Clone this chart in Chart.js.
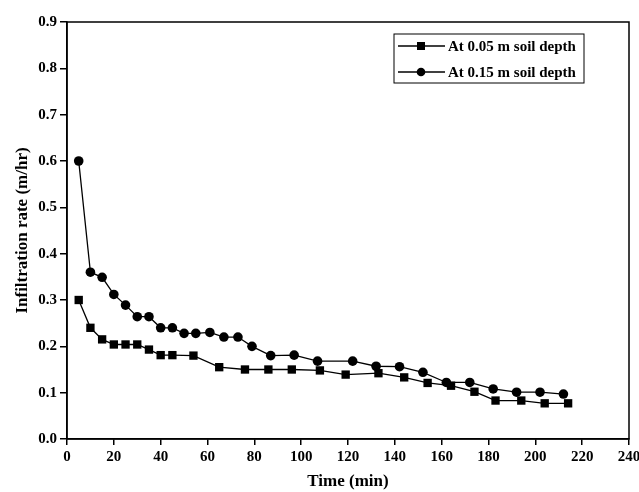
<!DOCTYPE html>
<html lang="en">
<head>
  <meta charset="UTF-8" />
  <title>Infiltration rate vs Time</title>
  <script src="https://cdn.jsdelivr.net/npm/chart.js"></script>
  <style>
    html, body {
      margin: 0;
      padding: 0;
      background: white;
    }

    .canvas {
      width: 639px;
      height: 492px;
    }
  </style>
</head>
<body>
  <div class="canvas">
    <canvas id="infChart" width="639" height="492"></canvas>
  </div>

  <script>
    // data
    const timeShallow = [5, 10, 15, 20, 25, 30, 35, 40, 45, 54, 65, 76, 86, 96, 108, 119, 133, 144, 154, 164, 174, 183, 194, 204, 214];
    const rateShallow = [0.3, 0.24, 0.215, 0.204, 0.204, 0.204, 0.193, 0.181, 0.181, 0.18, 0.155, 0.15, 0.15, 0.15, 0.148, 0.139, 0.142, 0.133, 0.121, 0.115, 0.102, 0.083, 0.083, 0.077, 0.077];

    const timeDeep = [5, 10, 15, 20, 25, 30, 35, 40, 45, 50, 55, 61, 67, 73, 79, 87, 97, 107, 122, 132, 142, 152, 162, 172, 182, 192, 202, 212];
    const rateDeep = [0.6, 0.36, 0.349, 0.312, 0.289, 0.264, 0.264, 0.24, 0.24, 0.228, 0.228, 0.23, 0.22, 0.22, 0.2, 0.18, 0.181, 0.168, 0.168, 0.157, 0.156, 0.144, 0.122, 0.122, 0.108, 0.101, 0.101, 0.097];

    const seriesLabels = ["At 0.05 m soil depth", "At 0.15 m soil depth"];
    const xTitle = "Time (min)";
    const yTitle = "Infiltration rate (m/hr)";

    const serif = "'Liberation Serif', 'DejaVu Serif', serif";

    // frame round the plot area + the boxed legend
    const framePlugin = {
      id: "frame",
      afterDraw(chart) {
        const { ctx, chartArea } = chart;
        ctx.save();
        ctx.strokeStyle = "#000";
        ctx.lineWidth = 1.5;
        ctx.strokeRect(chartArea.left, chartArea.top, chartArea.right - chartArea.left, chartArea.bottom - chartArea.top);

        // legend
        const bx = 394, by = 34, bw = 190, bh = 49;
        ctx.lineWidth = 1;
        ctx.strokeRect(bx, by, bw, bh);
        ctx.font = "bold 15px " + serif;
        ctx.textBaseline = "middle";
        ctx.fillStyle = "#000";
        chart.data.datasets.forEach((ds, i) => {
          const y = by + 12 + i * 26;
          ctx.lineWidth = 1.3;
          ctx.beginPath();
          ctx.moveTo(bx + 4, y);
          ctx.lineTo(bx + 51, y);
          ctx.stroke();
          ctx.beginPath();
          if (ds.pointStyle === "rect") {
            ctx.rect(bx + 23, y - 4, 8, 8);
          } else {
            ctx.arc(bx + 27, y, 4.3, 0, Math.PI * 2);
          }
          ctx.fill();
          ctx.fillText(ds.label, bx + 54, y + 1);
        });
        ctx.restore();
      }
    };

    const ctx = document.getElementById("infChart").getContext("2d");
    new Chart(ctx, {
      type: "line",
      data: {
        datasets: [
          {
            label: seriesLabels[0],
            data: timeShallow.map((t, i) => ({ x: t, y: rateShallow[i] })),
            borderColor: "#000",
            backgroundColor: "#000",
            borderWidth: 1.3,
            pointStyle: "rect",
            pointRadius: 5.9,
            pointHoverRadius: 5.9,
            pointBorderWidth: 0,
            fill: false,
            tension: 0
          },
          {
            label: seriesLabels[1],
            data: timeDeep.map((t, i) => ({ x: t, y: rateDeep[i] })),
            borderColor: "#000",
            backgroundColor: "#000",
            borderWidth: 1.3,
            pointStyle: "circle",
            pointRadius: 4.8,
            pointHoverRadius: 4.8,
            pointBorderWidth: 0,
            fill: false,
            tension: 0
          }
        ]
      },
      options: {
        responsive: false,
        animation: false,
        layout: {
          padding: { left: 7, right: 10, top: 22, bottom: 0 }
        },
        plugins: {
          legend: { display: false },
          tooltip: { enabled: false }
        },
        scales: {
          x: {
            type: "linear",
            min: 0,
            max: 240,
            ticks: {
              stepSize: 20,
              color: "#000",
              padding: 3,
              maxRotation: 0,
              font: { family: serif, size: 15, weight: "bold" }
            },
            grid: {
              display: true,
              drawOnChartArea: false,
              drawTicks: true,
              tickLength: 6,
              color: "#000",
              lineWidth: 1.5
            },
            border: { display: true, color: "#000", width: 1.5 },
            title: {
              display: true,
              text: xTitle,
              color: "#000",
              padding: { top: 0, bottom: 0 },
              font: { family: serif, size: 17, weight: "bold" }
            },
            afterFit(scale) {
              scale.height = 53;
              scale.paddingRight = 0;
              scale.paddingLeft = 0;
            }
          },
          y: {
            min: 0,
            max: 0.9,
            ticks: {
              stepSize: 0.1,
              color: "#000",
              padding: 3,
              font: { family: serif, size: 15, weight: "bold" },
              callback: v => v.toFixed(1)
            },
            grid: {
              display: true,
              drawOnChartArea: false,
              drawTicks: true,
              tickLength: 7,
              color: "#000",
              lineWidth: 1.5
            },
            border: { display: true, color: "#000", width: 1.5 },
            title: {
              display: true,
              text: yTitle,
              color: "#000",
              padding: { top: 5, bottom: 0 },
              font: { family: serif, size: 17, weight: "bold" }
            },
            afterFit(scale) {
              scale.width = 60;
              scale.paddingTop = 0;
              scale.paddingBottom = 0;
            }
          }
        }
      },
      plugins: [framePlugin]
    });
  </script>
</body>
</html>
